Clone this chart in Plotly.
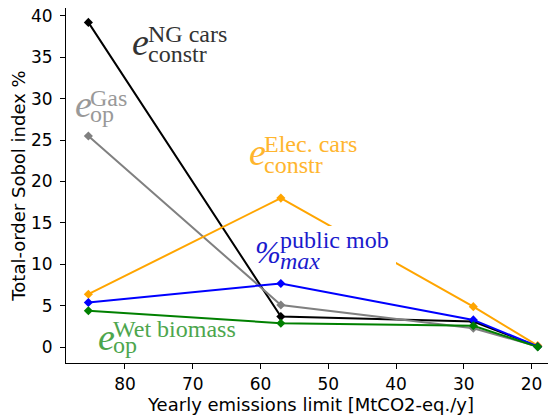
import plotly.graph_objects as go

# yearly emission limits [MtCO2-eq./y]
limits = [85.4, 57.0, 28.6, 19.1]

# total-order Sobol indices [%]
ng_cars_constr = [39.2, 3.7, 3.1, 0.1]
gas_op = [25.5, 5.1, 2.3, 0.1]
elec_cars_constr = [6.4, 18.0, 4.9, 0.2]
public_mob_max = [5.4, 7.7, 3.3, 0.1]
wet_biomass_op = [4.4, 2.9, 2.6, 0.05]

x_ticks = [80, 70, 60, 50, 40, 30, 20]
y_ticks = [0, 5, 10, 15, 20, 25, 30, 35, 40]

# the page body adds an 8px offset, so the figure is a bit smaller than the window
OFF = 8
W, H = 548, 410
L, R, T, B = 58, 0, 0, 55
XR = [88.7, 16.4]
YR = [-1.9, 40.94]


def at(px, py):
    # window pixel position -> data coordinates
    fx = (px - OFF - L) / (W - L - R)
    fy = (H - B - (py - OFF)) / (H - T - B)
    return XR[0] + fx * (XR[1] - XR[0]), YR[0] + fy * (YR[1] - YR[0])


series = [
    (ng_cars_constr, "black"),
    (gas_op, "gray"),
    (elec_cars_constr, "orange"),
    (public_mob_max, "blue"),
    (wet_biomass_op, "green"),
]

fig = go.Figure()
for vals, col in series:
    fig.add_trace(go.Scatter(x=limits, y=vals, mode="lines+markers",
                             line=dict(color=col, width=2),
                             marker=dict(symbol="diamond", size=7, color=col),
                             showlegend=False))

# white box behind the public mob label
x0, y0 = at(260, 226)
x1, y1 = at(396, 273)
fig.add_shape(type="rect", x0=x0, x1=x1, y0=y0, y1=y1, fillcolor="white",
              line_width=0, layer="above")

# labels: main, sup, sub, colour, main x, main centre y, main size, text x, sup y, sub y
labels = [
    ("<i>e</i>", "NG cars", "constr", "#333333", 131, 42, 38, 147, 34, 54),
    ("<i>e</i>", "Gas", "op", "#999999", 74, 104, 38, 89, 98, 114),
    ("<i>e</i>", "Elec. cars", "constr", "#FFB52E", 248, 152, 38, 263, 144, 165),
    ("<i>%</i>", "public mob", "<i>max</i>", "#1a1acd", 254, 252, 31, 279, 240, 261),
    ("<i>e</i>", "Wet biomass", "op", "#4DA64D", 97, 337, 38, 112, 329, 345),
]
for main, sup, sub, col, mx, my, ms, tx, sy, by in labels:
    for txt, px, py, size in [(main, mx, my, ms), (sup, tx, sy, 24), (sub, tx, by, 24)]:
        ax_, ay_ = at(px, py)
        fig.add_annotation(x=ax_, y=ay_, xref="x", yref="y", text=txt,
                           showarrow=False, xanchor="left", yanchor="middle",
                           borderpad=0,
                           font=dict(family="Liberation Serif", size=size, color=col))

axis_style = dict(showline=True, linecolor="black", linewidth=1, ticks="outside",
                  ticklen=5, tickcolor="black", tickwidth=1, showgrid=False,
                  zeroline=False, ticklabeloverflow="allow",
                  tickfont=dict(size=17, color="black"))

fig.update_layout(
    width=W, height=H,
    margin=dict(l=L, r=R, t=T, b=B),
    plot_bgcolor="white", paper_bgcolor="white",
    font=dict(family="DejaVu Sans", size=17, color="black"),
    xaxis=dict(range=XR, tickvals=x_ticks, automargin=False, ticklabelstandoff=1,
               title=dict(text="Yearly emissions limit [MtCO2-eq./y]",
                          font=dict(size=18), standoff=0), **axis_style),
    yaxis=dict(range=YR, tickvals=y_ticks, automargin=False, ticklabelstandoff=4,
               title=dict(text="Total-order Sobol index %",
                          font=dict(size=18), standoff=8), **axis_style),
)

fig.write_html("out.html")
